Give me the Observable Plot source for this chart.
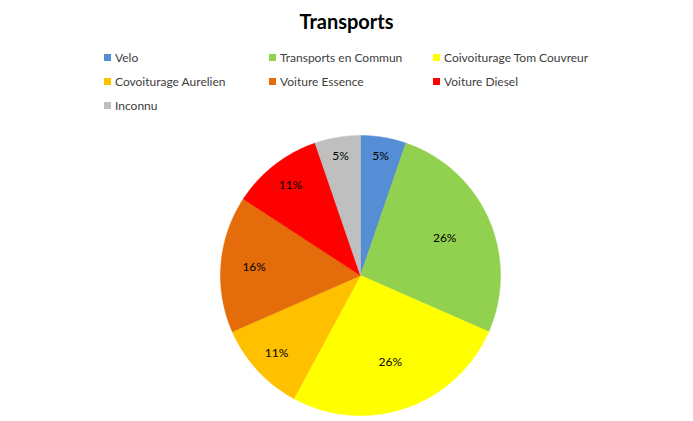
<!DOCTYPE html>
<html>
<head>
<meta charset="utf-8">
<script src="https://cdn.jsdelivr.net/npm/d3@7"></script>
<script src="https://cdn.jsdelivr.net/npm/@observablehq/plot@0.6"></script>
<style>
  html, body { margin: 0; padding: 0; background: #fff; }
  #wrap { position: relative; width: 693px; height: 421px; overflow: hidden; font-family: Lato, "Open Sans", sans-serif; }
  #title { position: absolute; left: 0; top: 9px; width: 693px; text-align: center; font-weight: bold; font-size: 20px; color: #000; }
  #legend { position: absolute; left: 104px; top: 48px; display: grid; grid-template-columns: 165px 164px auto; grid-auto-rows: 24px; font-size: 12px; color: #404040; }
  .item { display: flex; align-items: center; height: 18px; white-space: nowrap; }
  .sw { width: 7px; height: 7px; margin-right: 4px; flex: none; }
  #chart { position: absolute; left: 0; top: 125px; }
</style>
</head>
<body>
<div id="wrap">
  <div id="title">Transports</div>
  <div id="legend"></div>
  <div id="chart"></div>
</div>
<script>
const categories = ["Velo", "Transports en Commun", "Coivoiturage Tom Couvreur", "Covoiturage Aurelien", "Voiture Essence", "Voiture Diesel", "Inconnu"];
const values = [1, 5, 5, 2, 3, 2, 1];
const colors = ["#558ED5", "#92D050", "#FFFF00", "#FFC000", "#E46C0A", "#FF0000", "#BFBFBF"];

// legend
const legend = document.getElementById("legend");
categories.forEach((c, i) => {
  const it = document.createElement("div");
  it.className = "item";
  const sw = document.createElement("span");
  sw.className = "sw";
  sw.style.background = colors[i];
  const t = document.createElement("span");
  t.textContent = c;
  it.appendChild(sw); it.appendChild(t);
  legend.appendChild(it);
});

// pie geometry from the data
const total = d3.sum(values);
const pts = [];
const labels = [];
let acc = 0;
values.forEach((v, i) => {
  const a0 = acc / total * 2 * Math.PI;
  const a1 = (acc + v) / total * 2 * Math.PI;
  const k = categories[i];
  pts.push({x: 0, y: 0, k});
  const n = Math.max(2, Math.ceil((a1 - a0) / (Math.PI / 360)));
  for (let j = 0; j <= n; j++) {
    const a = a0 + (a1 - a0) * j / n;
    pts.push({x: Math.sin(a), y: Math.cos(a), k});
  }
  pts.push({x: 0, y: 0, k});
  const share = v / total;
  const am = (a0 + a1) / 2;
  const r = 0.92 - share;
  labels.push({x: r * Math.sin(am), y: r * Math.cos(am), text: Math.round(share * 100) + "%"});
  acc += v;
});

const chart = Plot.plot({
  width: 693,
  height: 296,
  marginLeft: 220,
  marginRight: 193,
  marginTop: 10,
  marginBottom: 6,
  x: {domain: [-1, 1], axis: null},
  y: {domain: [-1, 1], axis: null},
  color: {domain: categories, range: colors},
  style: {fontFamily: "Lato, 'Open Sans', sans-serif", background: "transparent"},
  marks: [
    Plot.line(pts, {x: "x", y: "y", z: "k", fill: "k", stroke: "k", strokeWidth: 0.5, curve: "linear"}),
    Plot.text(labels, {x: "x", y: "y", text: "text", fontSize: 12, fill: "#000"})
  ]
});
document.getElementById("chart").appendChild(chart);
</script>
</body>
</html>
